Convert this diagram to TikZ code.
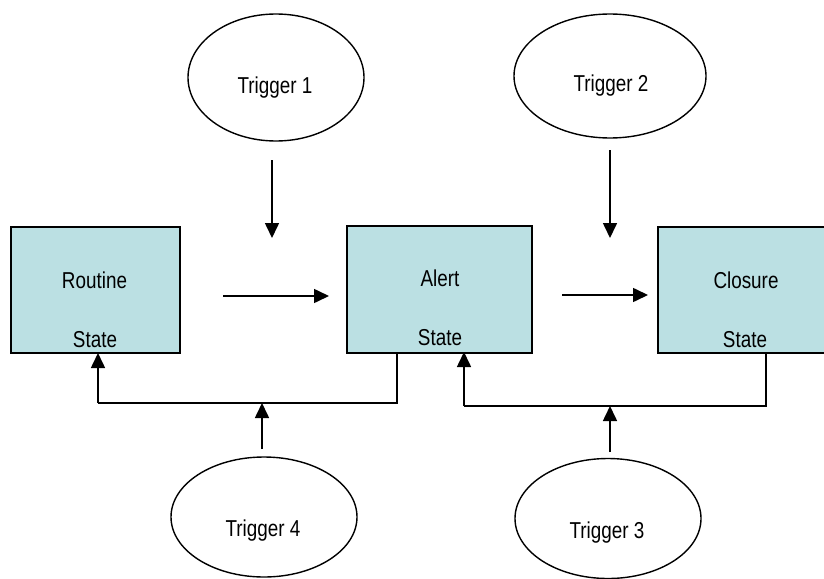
\documentclass[tikz,border=0pt]{standalone}
\usepackage{fontspec}
\setmainfont{Liberation Sans}[FakeStretch=0.82]
\usetikzlibrary{arrows.meta,shapes.geometric}
\definecolor{statefill}{RGB}{187,224,227}
\tikzset{
  statebox/.style={draw=black, line width=1.6pt, fill=statefill, inner sep=0pt},
  trigger/.style={draw=black, line width=1.4pt, ellipse, inner sep=0pt},
  lbl/.style={inner sep=0pt, anchor=base, font=\fontsize{23}{26}\selectfont},
  flow/.style={line width=1.6pt, -{Triangle[length=15pt,width=14pt]}},
  wire/.style={line width=1.6pt}
}
\begin{document}
\begin{tikzpicture}[x=1pt, y=-1pt]
  \useasboundingbox (0,0) rectangle (824,578);
  \clip (0,0) rectangle (824,578);

  % trigger ellipses
  \node[trigger, minimum width=176pt, minimum height=127pt] (t1) at (276,77.5) {};
  \node[trigger, minimum width=192pt, minimum height=124pt] (t2) at (610,76) {};
  \node[trigger, minimum width=186pt, minimum height=120pt] (t4) at (264,517) {};
  \node[trigger, minimum width=186pt, minimum height=120pt] (t3) at (608,518.5) {};
  \node[lbl] (t1l) at (275,93) {Trigger 1};
  \node[lbl] (t2l) at (611,92) {Trigger 2};
  \node[lbl] (t4l) at (263,536) {Trigger 4};
  \node[lbl] (t3l) at (607,538) {Trigger 3};

  % state boxes
  \node[statebox, minimum width=169pt, minimum height=126pt] (routine) at (95.5,290) {};
  \node[statebox, minimum width=185pt, minimum height=127pt] (alert) at (439.5,289.5) {};
  \node[statebox, minimum width=172pt, minimum height=126pt] (closure) at (744,290) {};
  \node[lbl] (routinel) at (94.5,288.5) {Routine};
  \node[lbl] (routines) at (95,347.5) {State};
  \node[lbl] (alertl) at (440,286) {Alert};
  \node[lbl] (alerts) at (440,345) {State};
  \node[lbl] (closurel) at (746,288.5) {Closure};
  \node[lbl] (closures) at (745,347) {State};

  % forward transitions
  \coordinate (f1a) at (223,296);
  \coordinate (f1b) at (329,296);
  \coordinate (f2a) at (562,295);
  \coordinate (f2b) at (648,295);
  \draw[flow] (f1a) -- (f1b);
  \draw[flow] (f2a) -- (f2b);

  % triggers acting from above
  \coordinate (a1a) at (272,160);
  \coordinate (a1b) at (272,238);
  \coordinate (a2a) at (610,150);
  \coordinate (a2b) at (610,238);
  \draw[flow] (a1a) -- (a1b);
  \draw[flow] (a2a) -- (a2b);

  % return paths
  \coordinate (r1s) at (397,353);
  \coordinate (r1c) at (397,403);
  \coordinate (r1d) at (98,403);
  \coordinate (r1e) at (98,353);
  \draw[wire] (r1s) -- (r1c) -- (r1d);
  \draw[flow] (r1d) -- (r1e);
  \coordinate (r2s) at (766,353);
  \coordinate (r2c) at (766,406);
  \coordinate (r2d) at (464,406);
  \coordinate (r2e) at (464,352);
  \draw[wire] (r2s) -- (r2c) -- (r2d);
  \draw[flow] (r2d) -- (r2e);

  % triggers acting from below
  \coordinate (a4a) at (262,449);
  \coordinate (a4b) at (262,403);
  \coordinate (a3a) at (610,452);
  \coordinate (a3b) at (610,406);
  \draw[flow] (a4a) -- (a4b);
  \draw[flow] (a3a) -- (a3b);
\end{tikzpicture}
\end{document}
